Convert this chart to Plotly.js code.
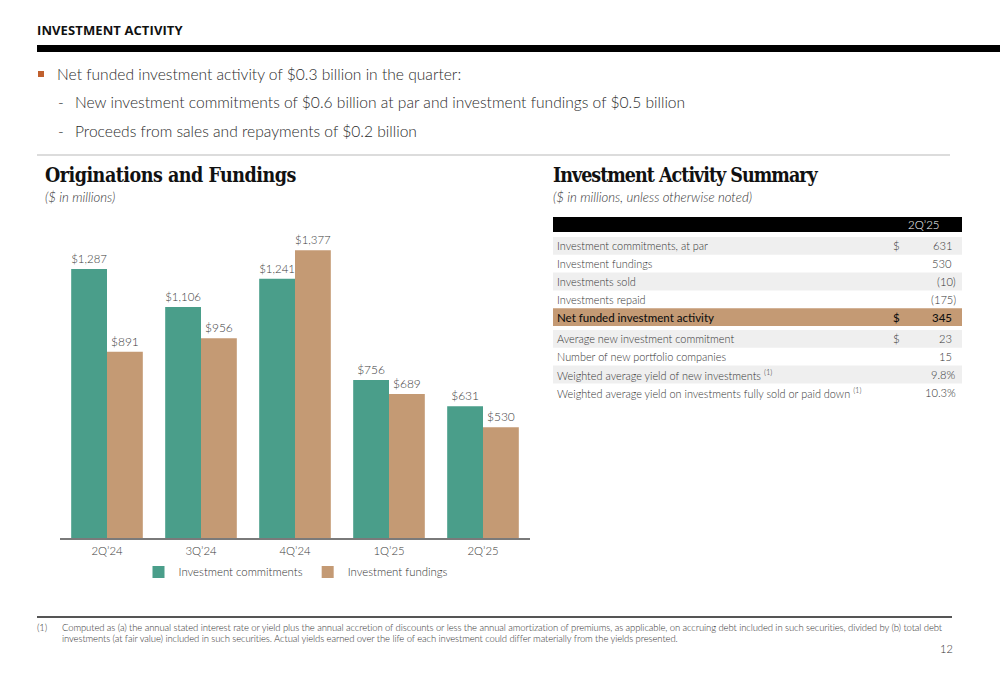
<!DOCTYPE html>
<html>
<head>
<meta charset="utf-8">
<script src="https://cdn.plot.ly/plotly-3.0.1.min.js"></script>
<style>
  html, body { margin:0; padding:0; background:#fff; }
  #page { position:relative; width:1000px; height:685px; overflow:hidden; font-family:Lato, "Open Sans", sans-serif; color:#2b2b2b; }
  #chart { position:absolute; left:0; top:0; width:1000px; height:685px; }
  .t { position:absolute; white-space:nowrap; line-height:1; }
  .sec { font-family:"Open Sans", sans-serif; font-weight:700; font-size:13px; color:#111; left:37px; top:24px; letter-spacing:0.1px; }
  .bar { position:absolute; background:#000; }
  .rule { position:absolute; background:#dcdcdc; }
  .bl { font-weight:300; font-size:15.6px; color:#2b2b2b; }
  .h2 { font-family:"DejaVu Serif", serif; font-stretch:condensed; font-weight:700; font-size:19.5px; color:#111; }
  .sub { font-style:italic; font-weight:300; font-size:13.2px; color:#333; }
  .fn { font-weight:300; font-size:9.5px; color:#333; letter-spacing:-0.1px; }
</style>
</head>
<body>
<div id="page">
  <div id="chart"></div>
  <div class="t sec">INVESTMENT ACTIVITY</div>
  <div class="bar" style="left:37px; top:45px; width:963px; height:7px;"></div>

  <div style="position:absolute; left:38px; top:71px; width:6px; height:6px; background:#c0602e;"></div>
  <div class="t bl" style="left:57px; top:67px;">Net funded investment activity of $0.3 billion in the quarter:</div>
  <div class="t bl" style="left:58px; top:95px;">-</div>
  <div class="t bl" style="left:75px; top:95px;">New investment commitments of $0.6 billion at par and investment fundings of $0.5 billion</div>
  <div class="t bl" style="left:58px; top:124px;">-</div>
  <div class="t bl" style="left:75px; top:124px;">Proceeds from sales and repayments of $0.2 billion</div>

  <div class="rule" style="left:37px; top:154px; width:913px; height:1.5px;"></div>

  <div class="t h2" style="left:45px; top:166px; letter-spacing:-0.5px;">Originations and Fundings</div>
  <div class="t sub" style="left:45px; top:191px;">($ in millions)</div>
  <div class="t h2" style="left:553px; top:166px; letter-spacing:-1.0px;">Investment Activity Summary</div>
  <div class="t sub" style="left:553px; top:191px;">($ in millions, unless otherwise noted)</div>

  <div class="rule" style="left:37px; top:616px; width:915px; height:2px; background:#555;"></div>
  <div class="t fn" style="left:37px; top:623px;">(1)</div>
  <div class="t fn" style="left:62px; top:623px;">Computed as (a) the annual stated interest rate or yield plus the annual accretion of discounts or less the annual amortization of premiums, as applicable, on accruing debt included in such securities, divided by (b) total debt</div>
  <div class="t fn" style="left:62px; top:634px;">investments (at fair value) included in such securities. Actual yields earned over the life of each investment could differ materially from the yields presented.</div>
  <div class="t" style="left:940px; top:643px; font-size:11px; font-weight:300; color:#333;">12</div>
</div>
<script>
// ---- Chart data ----
const quarters = ["2Q\u201924", "3Q\u201924", "4Q\u201924", "1Q\u201925", "2Q\u201925"];
const commitments = [1287, 1106, 1241, 756, 631];
const fundings = [891, 956, 1377, 689, 530];
const seriesNames = ["Investment commitments", "Investment fundings"];

// ---- Table data ----
const tableHeader = "2Q\u201925";
const topLabels = ["Investment commitments, at par", "Investment fundings", "Investments sold", "Investments repaid", "Net funded investment activity"];
const topDollar = ["$", "", "", "", "$"];
const topValues = ["631", "530", "(10)", "(175)", "345"];
const botLabels = ["Average new investment commitment", "Number of new portfolio companies", "Weighted average yield of new investments", "Weighted average yield on investments fully sold or paid down"];
const botNotes = ["", "", "(1)", "(1)"];
const botDollar = ["$", "", "", ""];
const botValues = ["23", "15", "9.8%", "10.3%"];

const GREEN = "#4a9e8a", TAN = "#c49a74", GREY = "#efefef";
const W = 1000, H = 685;
const px = v => v / W, py = v => 1 - v / H;

const lightFont = (size, color) => ({family: "Lato, sans-serif", size: size, color: color, weight: 300});

const traces = [
  {type: "bar", name: seriesNames[0], x: quarters, y: commitments, marker: {color: GREEN},
   text: commitments.map(v => "$" + v.toLocaleString("en-US")), textposition: "outside",
   textfont: lightFont(12, "#3a3a3a"), cliponaxis: false, hoverinfo: "skip"},
  {type: "bar", name: seriesNames[1], x: quarters, y: fundings, marker: {color: TAN},
   text: fundings.map(v => "$" + v.toLocaleString("en-US")), textposition: "outside",
   textfont: lightFont(12, "#3a3a3a"), cliponaxis: false, hoverinfo: "skip"}
];

// ---- Table built from the arrays as shapes + annotations ----
const T = {x0: 553, x1: 962, labelX: 555, dollarX: 896, valX: 954, parenX: 958,
           headTop: 217, headH: 15, rowH: 17.8, topStart: 237, botStart: 330};
const shapes = [], annotations = [];
const rect = (y0, y1, color) => shapes.push({type: "rect", xref: "paper", yref: "paper",
  x0: px(T.x0), x1: px(T.x1), y0: py(y1), y1: py(y0), fillcolor: color, line: {width: 0}, layer: "below"});
const ann = (text, x, y, anchor, font) => annotations.push({text: text, xref: "paper", yref: "paper",
  x: px(x), y: py(y), xanchor: anchor, yanchor: "middle", showarrow: false, font: font});

rect(T.headTop, T.headTop + T.headH, "#000");
ann(tableHeader, 923, T.headTop + T.headH / 2, "center", {family: "Lato, sans-serif", size: 11.5, color: "#fff", weight: 300});

function block(labels, notes, dollars, values, start, lastHighlight) {
  labels.forEach((lab, i) => {
    const top = start + i * T.rowH, mid = top + T.rowH / 2;
    const hl = lastHighlight && i === labels.length - 1;
    const fill = hl ? TAN : (i % 2 === 0 ? GREY : "#fff");
    if (fill !== "#fff") rect(top, top + T.rowH, fill);
    const f = hl ? {family: "Lato, sans-serif", size: 11.5, color: "#111", weight: 500} : lightFont(10.9, "#333");
    const txt = notes && notes[i] ? lab + " <sup>" + notes[i] + "</sup>" : lab;
    ann(txt, T.labelX, mid, "left", f);
    if (dollars[i]) ann(dollars[i], T.dollarX, mid, "center", hl ? f : lightFont(11.5, "#333"));
    const v = values[i];
    const endX = (v.endsWith(")") || v.endsWith("%")) ? T.parenX : T.valX;
    ann(v, endX, mid, "right", hl ? f : lightFont(11.2, "#333"));
  });
}
block(topLabels, null, topDollar, topValues, T.topStart, true);
block(botLabels, botNotes, botDollar, botValues, T.botStart, false);

const layout = {
  width: W, height: H, margin: {l: 0, r: 0, t: 0, b: 0},
  paper_bgcolor: "rgba(0,0,0,0)", plot_bgcolor: "rgba(0,0,0,0)",
  barmode: "group", bargap: 0.238, bargroupgap: 0,
  showlegend: true,
  legend: {orientation: "h", x: px(296), xanchor: "center", y: py(572), yanchor: "middle",
    font: lightFont(11.4, "#333"), itemwidth: 30, traceorder: "normal", bgcolor: "rgba(0,0,0,0)"},
  xaxis: {domain: [px(60), px(530)], showline: true, linecolor: "#7a7a7a", linewidth: 1.5,
    ticks: "", ticklabelstandoff: 2, showgrid: false, zeroline: false, fixedrange: true,
    tickfont: lightFont(11.4, "#3a3a3a")},
  yaxis: {domain: [py(538), py(230)], range: [0, 1474], visible: false, showgrid: false, zeroline: false, fixedrange: true},
  shapes: shapes, annotations: annotations,
  font: {family: "Lato, sans-serif"}
};

Plotly.newPlot("chart", traces, layout, {displayModeBar: false, staticPlot: true});
</script>
</body>
</html>
